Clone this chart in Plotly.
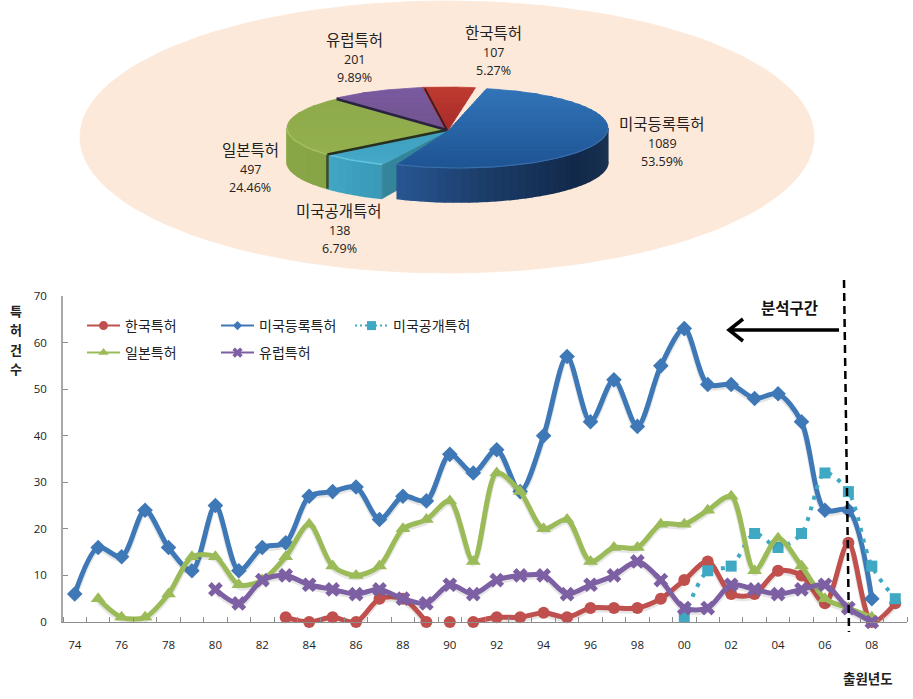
import numpy as np
import plotly.graph_objects as go

FONT = "Noto Sans CJK KR"
NUM_FONT = "Open Sans"

# line chart data
years = ["74","75","76","77","78","79","80","81","82","83","84","85","86","87","88","89","90","91",
         "92","93","94","95","96","97","98","99","00","01","02","03","04","05","06","07","08","09"]
korea = [None]*9 + [1,0,1,0,5,5,0,0,0,1,1,2,1,3,3,3,5,9,13,6,6,11,10,4,17,0,4]
us_reg = [6,16,14,24,16,11,25,11,16,17,27,28,29,22,27,26,36,32,37,28,40,57,43,52,42,55,63,51,51,48,49,43,24,24,5,None]
us_pub = [None]*26 + [1,11,12,19,16,19,32,28,12,5]
japan = [None] + [5,1,1,6,14,14,8,9,14,21,12,10,12,20,22,26,13,32,28,20,22,13,16,16,21,21,24,27,11,18,12,5,3,1,None]
europe = [None]*6 + [7,4,9,10,8,7,6,7,5,4,8,6,9,10,10,6,8,10,13,9,3,3,8,7,6,7,8,3,0,None]

# pie data
pie_names = ["한국특허", "미국등록특허", "미국공개특허", "일본특허", "유럽특허"]
pie_counts = [107, 1089, 138, 497, 201]
pie_pct = ["5.27%", "53.59%", "6.79%", "24.46%", "9.89%"]
pie_share = [5.27, 53.59, 6.79, 24.46, 9.89]

xs = list(range(len(years)))
W, H = 913, 699
PLOT_L, PLOT_R, PLOT_T, PLOT_B = 63, 907, 296, 622

fig = go.Figure()


def mix(c0, c1, t):
    a = [int(c0[i:i+2], 16) for i in (1, 3, 5)]
    b = [int(c1[i:i+2], 16) for i in (1, 3, 5)]
    return "#%02x%02x%02x" % tuple(int(round(a[i] + (b[i]-a[i])*t)) for i in range(3))


def poly(px, py, color, lw=0.8):
    fig.add_trace(go.Scatter(x=list(px), y=list(py), xaxis="x2", yaxis="y2", mode="lines", fill="toself",
                             fillcolor=color, line=dict(color=color, width=lw),
                             hoverinfo="skip", showlegend=False))


def stroke(px, py, color, width):
    fig.add_trace(go.Scatter(x=list(px), y=list(py), xaxis="x2", yaxis="y2", mode="lines",
                             line=dict(color=color, width=width), hoverinfo="skip", showlegend=False))


def rim(cx, cy, rx, ry, t0, t1, n=30):
    t = np.radians(np.linspace(t0, t1, n))
    return cx + rx*np.sin(t), cy - ry*np.cos(t)


def clip_y(pts, limit, keep_below):
    # one pass of polygon clipping against a horizontal line
    out = []
    inside = (lambda p: p[1] >= limit) if keep_below else (lambda p: p[1] <= limit)
    for i, p in enumerate(pts):
        q = pts[(i+1) % len(pts)]
        if inside(p):
            out.append(p)
        if inside(p) != inside(q):
            s = (limit-p[1])/(q[1]-p[1])
            out.append((p[0]+(q[0]-p[0])*s, limit))
    return out


def top(ax, ay, cx, cy, rx, ry, t0, t1, c0, c1, n=1):
    # slice top, cut into horizontal bands for the vertical gradient
    rx_, ry_ = rim(cx, cy, rx, ry, t0, t1, 50)
    pts = [(ax, ay)] + list(zip(rx_, ry_))
    ys = [p[1] for p in pts]
    edges = np.linspace(min(ys), max(ys), n+1)
    for i in range(n):
        band = clip_y(clip_y(pts, edges[i]-0.3, True), edges[i+1]+0.3, False)
        if band:
            poly([p[0] for p in band]+[band[0][0]], [p[1] for p in band]+[band[0][1]],
                 mix(c0, c1, i/max(n-1, 1)))


def wall(cx, cy, rx, ry, depth, t0, t1, colors, n=16):
    edges = np.linspace(t0, t1, n+1)
    for i in range(n):
        rx_, ry_ = rim(cx, cy, rx, ry, edges[i], edges[i+1], 6)
        t = i/max(n-1, 1)*(len(colors)-1)
        k = min(int(t), len(colors)-2)
        poly(list(rx_)+list(rx_[::-1]), list(ry_)+list(ry_[::-1]+depth), mix(colors[k], colors[k+1], t-k), lw=1.6)


# pie angles come from the shares, clockwise from the top
start = -8.0
ang = [start]
for s in pie_share:
    ang.append(ang[-1] + s*3.6)
CX, CY, RX, RY, DEPTH = 447, 128, 160, 40, 34
BX, BRX = 458, 150

poly(*rim(447, 137, 367, 136, 0, 360, 120), "#fde9d9")

# back slices
top(CX, CY+2, CX, CY-1, RX, RY, ang[4], ang[5], "#7a5a9f", "#73548f", 8)
top(CX, CY+4, CX-2, CY-1, RX, RY, ang[0], ang[1], "#bd3a30", "#a82c2a", 8)

# green, cyan
wall(CX, CY, RX, RY, DEPTH, ang[3], 270, ["#86a346", "#8ba848"], 10)
top(CX, CY+2, CX, CY, RX, RY, ang[3], ang[4], "#8eaa4a", "#93af4e", 8)
wall(CX, CY, RX, RY, DEPTH, ang[2], ang[3], ["#3a9ab8", "#41a6c4"], 8)
cut_x, cut_y = rim(CX, CY, RX, RY, ang[2], ang[2], 1)
poly([CX, cut_x[0], cut_x[0], CX], [CY+3, cut_y[0], cut_y[0]+DEPTH, CY+DEPTH], "#34859a")
top(CX, CY+3, CX, CY, RX, RY, ang[2], ang[3], "#3f9fc0", "#45a8c8", 8)

# lit edges on the front rim
gx, gy = rim(CX, CY, RX, RY, ang[3], 270, 14)
stroke(gx, gy, "#a5bf62", 1.5)
gx, gy = rim(CX, CY, RX, RY, ang[2], ang[3], 10)
stroke(gx, gy, "#62c3dc", 1.5)

# dark gaps between slices
for a, col, wd in ((ang[3], "#27301f", 2.5), (ang[4], "#2a2340", 2.5), (ang[0], "#3a1c24", 1.8)):
    ex, ey = rim(CX, CY, RX, RY, a, a, 1)
    stroke([CX, ex[0]], [CY+2, ey[0]], col, wd)
ex, ey = rim(CX, CY, RX, RY, ang[3], ang[3], 1)
stroke([ex[0], ex[0]], [ey[0], ey[0]+DEPTH], "#3c4a22", 2.5)

# blue slice, pulled out a little
wall(BX, CY, BRX, RY, DEPTH, 90, ang[2], ["#1b3552", "#11284a", "#1a3a64", "#285591"], 36)
top(CX+1, CY+3, BX, CY, BRX, RY, ang[1], ang[2], "#3274b8", "#1f5595", 30)
bx_, by_ = rim(BX, CY, BRX, RY, 90, ang[2], 40)
stroke(bx_, by_, "#3a6ea8", 1.2)

# line chart, soft shadows first
series = [
    ("한국특허", korea, "#c0504d", "circle", 12),
    ("미국등록특허", us_reg, "#3f78b6", "diamond", 12),
    ("미국공개특허", us_pub, "#3fa9c4", "square", 11),
    ("일본특허", japan, "#9bbb59", "triangle-up", 13),
    ("유럽특허", europe, "#7d5fa3", "x", 13),
]
SMOOTH = 0.85
for name, vals, color, sym, size in series:
    dash = "4px,7px" if name == "미국공개특허" else "solid"
    width = 4 if name == "미국공개특허" else 5
    parts = [vals]
    # korea has no line either side of 90
    if name == "한국특허":
        c90, c91 = years.index("90"), years.index("91")
        parts = [vals[:c90] + [None]*(len(vals)-c90),
                 [None]*c90 + [vals[c90]] + [None]*(len(vals)-c91),
                 [None]*c91 + vals[c91:]]
    for p in parts:
        if name != "미국공개특허":
            fig.add_trace(go.Scatter(x=xs, y=[None if v is None else v-0.45 for v in p], mode="lines",
                                     line=dict(color="rgba(60,60,60,0.13)", width=6, shape="spline", smoothing=SMOOTH),
                                     hoverinfo="skip", showlegend=False, cliponaxis=False))
        fig.add_trace(go.Scatter(x=xs, y=p, mode="lines+markers", name=name, showlegend=False,
                                 line=dict(color=color, width=width, shape="spline", smoothing=SMOOTH, dash=dash),
                                 marker=dict(symbol=sym, size=size, color=color, line=dict(width=0)),
                                 cliponaxis=False))

# thin legend entries, the reference legend lines are finer than the plotted ones
for i, (name, vals, color, sym, size) in enumerate(series):
    fig.add_trace(go.Scatter(x=[None], y=[None], mode="lines+markers", name=name,
                             legend="legend" if i < 3 else "legend2",
                             line=dict(color=color, width=2, dash="2px,3px" if i == 2 else "solid"),
                             marker=dict(symbol=sym, size=9 if i != 1 else 7, color=color)))

# pie labels
label_pos = [(493, 32), (662, 123), (339, 210), (250, 149), (354, 39)]
annotations = []
for name, cnt, pct, (lx, ly) in zip(pie_names, pie_counts, pie_pct, label_pos):
    annotations.append(dict(x=lx, y=ly, xref="x2", yref="y2", text=name, showarrow=False,
                            font=dict(size=15.5, color="#222222", family=FONT)))
    annotations.append(dict(x=lx, y=ly+20, xref="x2", yref="y2", text=str(cnt), showarrow=False,
                            font=dict(size=12.5, color="#222222", family=NUM_FONT)))
    annotations.append(dict(x=lx, y=ly+38, xref="x2", yref="y2", text=pct, showarrow=False,
                            font=dict(size=12.5, color="#222222", family=NUM_FONT)))

# axis title stacked by hand, and other free text
for ch, cy_ in zip("특허건수", (310, 329, 349, 368)):
    annotations.append(dict(x=16, y=cy_, xref="x2", yref="y2", text="<b>"+ch+"</b>", showarrow=False,
                            font=dict(size=13, color="#222222", family=FONT)))
annotations.append(dict(x=868, y=678, xref="x2", yref="y2", text="<b>출원년도</b>", showarrow=False,
                        font=dict(size=13.5, color="#222222", family=FONT)))
annotations.append(dict(x=789, y=307, xref="x2", yref="y2", text="<b>분석구간</b>", showarrow=False,
                        font=dict(size=15.5, color="#111111", family=FONT)))

shapes = [
    dict(type="line", xref="x2", yref="y2", x0=844, y0=280, x1=849, y1=632,
         line=dict(color="black", width=2.5, dash="8px,5px"), layer="above"),
    dict(type="path", xref="x2", yref="y2", path="M 839 330 L 729 330 M 743 319 L 729 330 L 743 341",
         line=dict(color="black", width=3.5), layer="above"),
]

fig.update_layout(
    width=W, height=H, margin=dict(l=0, r=0, t=0, b=0, autoexpand=False), autosize=False,
    paper_bgcolor="white", plot_bgcolor="rgba(0,0,0,0)",
    font=dict(family=FONT, color="#222222"),
    hovermode=False,
    annotations=annotations, shapes=shapes,
    xaxis=dict(domain=[PLOT_L/W, PLOT_R/W], range=[-0.5, 35.5], anchor="y",
               tickmode="array", tickvals=xs[::2], ticktext=years[::2], ticks="", ticklabelstandoff=12,
               showgrid=False, zeroline=False, showline=True, linecolor="#8c8c8c", linewidth=1.2,
               tickfont=dict(size=11.5, color="#222222", family=NUM_FONT),
               minor=dict(tick0=-0.5, dtick=1, ticks="inside", ticklen=5, tickcolor="#8c8c8c", showgrid=False)),
    yaxis=dict(domain=[1-PLOT_B/H, 1-PLOT_T/H], range=[0, 70], anchor="x",
               tickmode="linear", tick0=0, dtick=10, ticks="inside", ticklen=5, tickcolor="#8c8c8c",
               ticklabelstandoff=12, showgrid=False, zeroline=False, showline=True,
               linecolor="#a8a8a8", linewidth=1.8, tickfont=dict(size=11.5, color="#222222", family=NUM_FONT)),
    xaxis2=dict(domain=[0, 1], range=[0, W], visible=False, anchor="y2"),
    yaxis2=dict(domain=[0, 1], range=[H, 0], visible=False, anchor="x2"),
    legend=dict(orientation="h", x=82/W, y=1-326/H, xanchor="left", yanchor="middle",
                entrywidth=86, entrywidthmode="pixels", itemwidth=33, bgcolor="rgba(0,0,0,0)",
                font=dict(size=14, color="#222222", family=FONT)),
    legend2=dict(orientation="h", x=82/W, y=1-353/H, xanchor="left", yanchor="middle",
                 entrywidth=86, entrywidthmode="pixels", itemwidth=33, bgcolor="rgba(0,0,0,0)",
                 font=dict(size=14, color="#222222", family=FONT)),
)

fig.write_html("out.html", post_script="document.body.style.margin='0';", config={"displayModeBar": False})
